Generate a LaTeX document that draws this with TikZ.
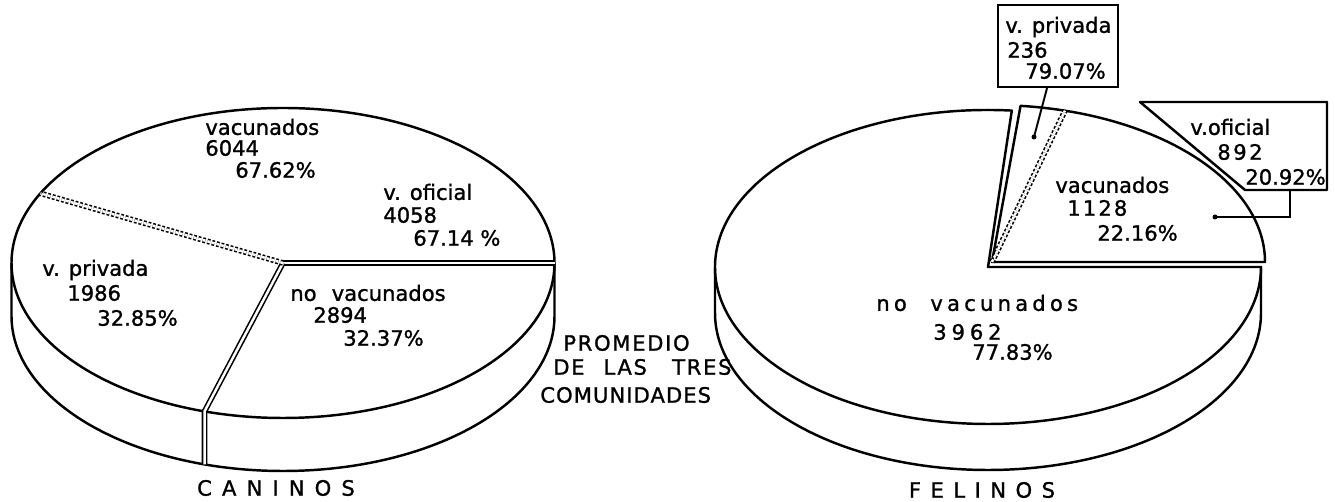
\documentclass[tikz,border=0pt]{standalone}
\usepackage{fontspec}
\setmainfont{DejaVu Sans}[FakeBold=1.2]
\usetikzlibrary{positioning, calc}

\begin{document}
\begin{tikzpicture}[x=0.02cm, y=0.02cm,
    rim/.style={line width=1.4pt, line join=round},
    seam/.style={line width=0.9pt, double=white, double distance=1.4pt},
    dotseam/.style={seam, dash pattern=on 1.6pt off 1.1pt},
    lead/.style={line width=1.1pt},
    lab/.style={anchor=west, inner sep=0pt, font=\fontsize{12}{14}\selectfont},
    wide/.style={font=\fontsize{12}{14}\selectfont\addfontfeature{LetterSpace=#1}},
    pietitle/.style={inner sep=0pt, wide=#1}]
\useasboundingbox (0,0) rectangle (1335,502);

% Caninos: side of the disc
\coordinate (cc) at (283,239);
\draw[rim] (11.5,239) -- (11.5,186) arc[start angle=180, end angle=360, x radius=271.5, y radius=155] -- (554.5,239);
% top face
\draw[rim] (cc) ellipse [x radius=271.5, y radius=155];
% seams between the parts
\draw[seam] (cc) -- ++(0:271.5 and 155);
\draw[seam] (cc) -- ++(-106.8:271.5 and 155) -- ++(0,-53);
\draw[dotseam] (cc) -- ++(153.3:271.5 and 155);

% Caninos labels
\node[lab] (cvacA) at (205,375) {vacunados};
\node[lab] (cvacB) at (205,354) {6044};
\node[lab] (cvacC) at (235,332) {67.62\%};
\node[lab] (cofiA) at (383,310) {v. oficial};
\node[lab] (cofiB) at (383,287) {4058};
\node[lab] (cofiC) at (413,264) {67.14 \%};
\node[lab] (cpriA) at (42,232) {v. privada};
\node[lab] (cpriB) at (67,209) {1986};
\node[lab] (cpriC) at (97,184) {32.85\%};
\node[lab] (cnoA) at (290,209) {no\hspace{0.4em} vacunados};
\node[lab] (cnoB) at (313,187) {2894};
\node[lab] (cnoC) at (343,164) {32.37\%};
\node[lab, wide=8] (promA) at (563,159) {PROMEDIO};
\node[lab, wide=8] (promB) at (553,135) {DE\hspace{0.5em} LAS\hspace{0.8em} TRES};
\node[lab, wide=5] (promC) at (540,107) {COMUNIDADES};
\node[pietitle=48] (caninos) at (276,14) {CANINOS};

% Felinos: side of the disc
\coordinate (fn) at (988,235);
\coordinate (fv) at (992,240);
\draw[rim] (715,235) -- (715,189) arc[start angle=180, end angle=360, x radius=273, y radius=157] -- (1261,235);
% no vacunados part
\draw[rim] (fn) -- ++(85:273 and 157) arc[start angle=85, end angle=360, x radius=273, y radius=157] -- cycle;
% vacunados part, pulled out
\draw[rim] (fv) -- ++(84:273 and 157) arc[start angle=84, end angle=0, x radius=273, y radius=157] -- cycle;
\draw[dotseam] (fv) -- ++(74.5:273 and 157);

% v. privada box and its leader
\node[draw, line width=1.3pt, minimum width=2.4cm, minimum height=1.64cm, inner sep=0pt] (fpbox) at (1058,456) {};
\node[lab] (fpriA) at (1005,475) {v. privada};
\node[lab] (fpriB) at (1007,452) {236};
\node[lab] (fpriC) at (1025,431) {79.07\%};
\coordinate (fpdot) at (1034,365);
\draw[lead] ([xshift=-0.22cm]fpbox.south) -- (fpdot);
\fill (fpdot) circle (2.5);

% v. oficial box and its leader
\draw[rim] (1140,400) -- (1327,400) -- (1327,312) -- (1245,312) -- cycle;
\coordinate (fobox) at (1290,312);
\coordinate (fodot) at (1215,285);
\draw[lead] (fobox) |- (fodot);
\fill (fodot) circle (2.5);

% Felinos labels
\node[lab] (fofiA) at (1190,375) {v.oficial};
\node[lab, wide=12] (fofiB) at (1217,350) {892};
\node[lab] (fofiC) at (1245,325) {20.92\%};
\node[lab] (fvacA) at (1055,317) {vacunados};
\node[lab, wide=10] (fvacB) at (1067,294) {1128};
\node[lab] (fvacC) at (1097,269) {22.16\%};
\node[lab, wide=20] (fnoA) at (876,199) {no\hspace{0.6em} vacunados};
\node[lab, wide=23] (fnoB) at (933,170) {3962};
\node[lab] (fnoC) at (972,150) {77.83\%};
\node[pietitle=45] (felinos) at (982,12) {FELINOS};
\end{tikzpicture}
\end{document}
